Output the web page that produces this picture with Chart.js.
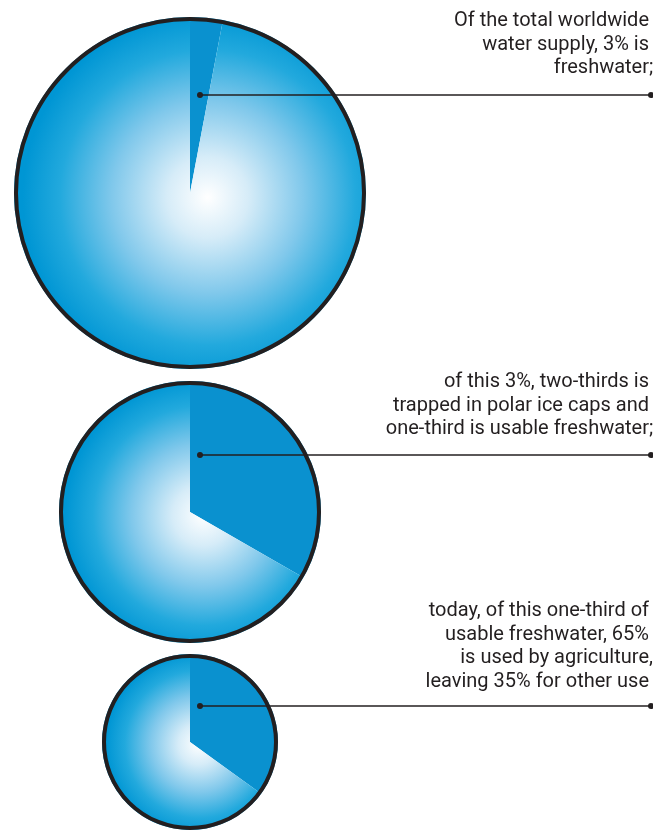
<!DOCTYPE html>
<html>
<head>
<meta charset="utf-8">
<script src="https://cdn.jsdelivr.net/npm/chart.js@4"></script>
<style>
  html, body { margin: 0; padding: 0; background: #fff; }
  body { width: 653px; height: 832px; position: relative; overflow: hidden; }
  canvas { position: absolute; left: 0; }
  .note {
    position: absolute;
    right: 4px;
    text-align: right;
    font-family: Roboto, "Liberation Sans", sans-serif;
    font-size: 20px;
    line-height: 23.5px;
    color: #231f20;
    white-space: nowrap;
  }
  .note .tail { position: absolute; }
</style>
</head>
<body>
<canvas id="pieWorld"></canvas>
<canvas id="pieFresh"></canvas>
<canvas id="pieUsable"></canvas>

<div class="note" style="top:8px">Of the total worldwide<br>water supply, 3% is<br>freshwater<span class="tail">;</span></div>
<div class="note" style="top:369px">of this 3%, two-thirds is<br>trapped in polar ice caps and<br>one-third is usable freshwater<span class="tail">;</span></div>
<div class="note" style="top:598px">today, of this one-third of<br>usable freshwater, 65%<br>is used by agriculture<span class="tail">,</span><br>leaving 35% for other use</div>

<script>
// === Data ===
const worldLabels = ["Freshwater", "Salt water"];
const worldValues = [3, 97];

const freshLabels = ["Usable freshwater", "Polar ice caps"];
const freshValues = [1, 2]; // one-third / two-thirds

const usableLabels = ["Other use", "Agriculture"];
const usableValues = [35, 65];

// === Styles ===
const INK = "#231f20";
const SLICE_BLUE = "#0a91cf";
const PAGE_W = 653;

// center / radius of each pie and the y of its leader line (page coords)
const pies = [
  { id: "pieWorld",  labels: worldLabels,  values: worldValues,  cx: 190, cy: 193, r: 176, leaderY: 95 },
  { id: "pieFresh",  labels: freshLabels,  values: freshValues,  cx: 190, cy: 512, r: 131, leaderY: 455 },
  { id: "pieUsable", labels: usableLabels, values: usableValues, cx: 190, cy: 742, r: 88,  leaderY: 706 },
];

const waterGradient = (chart) => {
  const area = chart.chartArea;
  if (!area) return "#6fc0ea";
  const cx = (area.left + area.right) / 2;
  const cy = (area.top + area.bottom) / 2;
  const r = (area.right - area.left) / 2;
  const fx = cx + r * 0.1;
  const fy = cy + r * 0.025;
  const g = chart.ctx.createRadialGradient(fx, fy, 0, fx, fy, r * 1.05);
  g.addColorStop(0, "#ffffff");
  g.addColorStop(0.22, "#d6ecf8");
  g.addColorStop(0.52, "#80c8eb");
  g.addColorStop(0.8, "#22a9dd");
  g.addColorStop(1, "#0096d4");
  return g;
};

// outer ring plus the leader line running out to the page edge
const ringAndLeader = {
  id: "ringAndLeader",
  afterDraw(chart, args, opts) {
    const arc = chart.getDatasetMeta(0).data[0];
    if (!arc) return;
    const { x, y, outerRadius } = arc;
    const c = chart.ctx;
    c.save();
    c.strokeStyle = INK;
    c.lineWidth = 4;
    c.beginPath();
    c.arc(x, y, outerRadius - 2, 0, Math.PI * 2);
    c.stroke();

    const ly = opts.leaderY;
    const lx = x + 10;
    c.lineWidth = 1.5;
    c.beginPath();
    c.moveTo(lx, ly);
    c.lineTo(chart.width, ly);
    c.stroke();
    c.fillStyle = INK;
    [lx, chart.width - 2].forEach(px => {
      c.beginPath();
      c.arc(px, ly, 3, 0, Math.PI * 2);
      c.fill();
    });
    c.restore();
  },
};

pies.forEach(p => {
  const canvas = document.getElementById(p.id);
  const top = p.cy - p.r - 4;
  canvas.width = PAGE_W;
  canvas.height = p.r * 2 + 8;
  canvas.style.top = top + "px";

  new Chart(canvas, {
    type: "pie",
    data: {
      labels: p.labels,
      datasets: [{
        data: p.values,
        backgroundColor: (ctx) => ctx.dataIndex === 0 ? SLICE_BLUE : waterGradient(ctx.chart),
        borderWidth: 0,
      }],
    },
    options: {
      responsive: false,
      animation: false,
      devicePixelRatio: 1,
      layout: {
        padding: { left: p.cx - p.r, right: PAGE_W - p.cx - p.r, top: 4, bottom: 4 },
      },
      plugins: {
        legend: { display: false },
        tooltip: { enabled: false },
        ringAndLeader: { leaderY: p.leaderY - top },
      },
    },
    plugins: [ringAndLeader],
  });
});
</script>
</body>
</html>
